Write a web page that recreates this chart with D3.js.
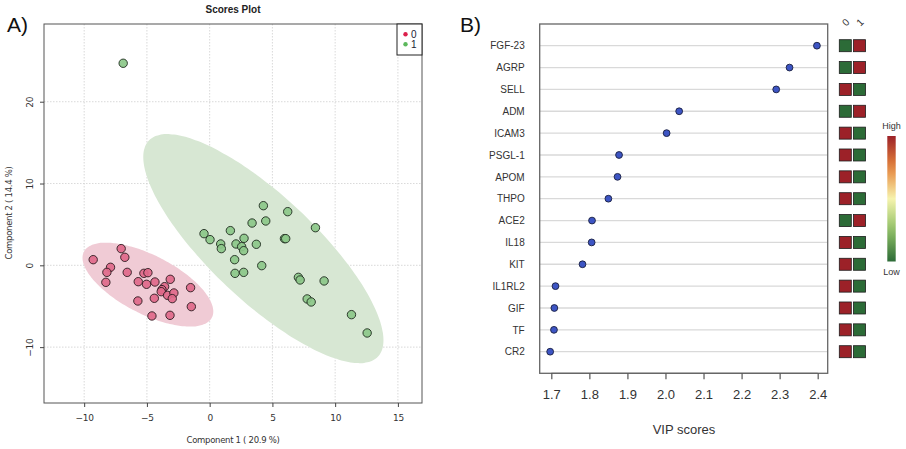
<!DOCTYPE html>
<html><head><meta charset="utf-8">
<script src="https://cdn.jsdelivr.net/npm/d3@7"></script>
<style>body{margin:0;background:#fff}svg{display:block;font-family:"Liberation Sans",Arial,sans-serif}</style>
</head><body><svg id="c" width="906" height="449"></svg>
<script>
// ---------- Panel A data ----------
const groups = ["0", "1"];
const group0X = [-9.28,-7.05,-6.76,-7.90,-8.19,-8.27,-6.57,-5.24,-4.92,-5.69,-5.03,-4.36,-3.14,-3.59,-3.80,-3.86,-3.35,-2.85,-2.98,-1.52,-5.72,-4.41,-1.46,-4.60,-3.16];
const group0Y = [0.69,2.04,0.98,-0.24,-0.86,-2.08,-0.86,-0.98,-0.90,-2.00,-2.32,-2.04,-1.71,-2.61,-2.97,-3.22,-3.67,-3.38,-4.07,-2.73,-4.36,-4.03,-5.05,-6.19,-6.11];
const group1X = [-6.89,4.28,6.22,4.47,3.38,8.43,1.65,-0.45,0.03,2.74,5.96,6.06,0.88,2.10,3.72,2.55,0.93,2.71,1.99,4.15,2.02,2.71,7.07,7.21,9.12,7.77,8.09,11.30,12.55];
const group1Y = [24.7,7.29,6.56,5.42,5.17,4.60,4.24,3.87,3.14,3.30,3.26,3.26,2.61,2.61,2.57,2.28,2.04,1.79,0.69,-0.04,-0.98,-0.86,-1.47,-1.79,-1.91,-4.11,-4.48,-6.03,-8.27];
// confidence ellipses: center x, center y, sd-x, sd-y, correlation
const ellipse0 = [-4.92, -2.36, 5.21, 5.13, -0.64];
const ellipse1 = [4.28, 2.04, 9.57, 14.0, -0.80];
const xTicksA = [-10, -5, 0, 5, 10, 15];
const yTicksA = [-10, 0, 10, 20];

// ---------- Panel B data ----------
const features = ["FGF-23","AGRP","SELL","ADM","ICAM3","PSGL-1","APOM","THPO","ACE2","IL18","KIT","IL1RL2","GIF","TF","CR2"];
const vipScores = [2.398,2.326,2.291,2.036,2.003,1.878,1.874,1.850,1.807,1.806,1.782,1.711,1.708,1.707,1.697];
// relative level per class (1 = high, 0 = low)
const level0 = [0,0,1,0,1,1,1,1,0,1,1,1,1,1,1];
const level1 = [1,1,0,1,0,0,0,0,1,0,0,0,0,0,0];
const xTicksB = [1.7,1.8,1.9,2.0,2.1,2.2,2.3,2.4];

const svg = d3.select("#c");
const txt = "#333";

// ================= Panel A =================
const A = {l:44, r:422, t:24, b:403};
const xA = d3.scaleLinear().domain([-13.2, 16.92]).range([A.l, A.r]);
const yA = d3.scaleLinear().domain([-16.83, 29.5]).range([A.b, A.t]);
const gA = svg.append("g");

// grid
gA.selectAll(".vg").data(xTicksA).join("line")
  .attr("x1", d=>xA(d)).attr("x2", d=>xA(d)).attr("y1", A.t).attr("y2", A.b)
  .attr("stroke", "#cfcfcf").attr("stroke-dasharray", "1.5,1.5").attr("stroke-width", 0.8);
gA.selectAll(".hg").data(yTicksA).join("line")
  .attr("y1", d=>yA(d)).attr("y2", d=>yA(d)).attr("x1", A.l).attr("x2", A.r)
  .attr("stroke", "#cfcfcf").attr("stroke-dasharray", "1.5,1.5").attr("stroke-width", 0.8);

function ellipsePts(e){
  const [cx, cy, sx, sy, r] = e; const q = Math.sqrt(1 - r*r);
  return d3.range(0, 361, 3).map(a => { const t = a*Math.PI/180;
    return [xA(cx + sx*Math.cos(t)), yA(cy + sy*(r*Math.cos(t) + q*Math.sin(t)))]; });
}
const line = d3.line().curve(d3.curveCardinalClosed);
gA.append("path").attr("d", line(ellipsePts(ellipse1).slice(0,-1))).attr("fill", "#d7e7d3").attr("stroke", "none");
gA.append("path").attr("d", line(ellipsePts(ellipse0).slice(0,-1))).attr("fill", "#f0cbd5").attr("stroke", "none");

const pts0 = group0X.map((x,i)=>({x, y:group0Y[i]}));
const pts1 = group1X.map((x,i)=>({x, y:group1Y[i]}));
gA.selectAll(".p0").data(pts0).join("circle")
  .attr("cx", d=>xA(d.x)).attr("cy", d=>yA(d.y)).attr("r", 4.2)
  .attr("fill", "#e0698a").attr("fill-opacity", 0.92).attr("stroke", "#2a1a1e").attr("stroke-width", 0.9);
gA.selectAll(".p1").data(pts1).join("circle")
  .attr("cx", d=>xA(d.x)).attr("cy", d=>yA(d.y)).attr("r", 4.2)
  .attr("fill", "#8cc889").attr("fill-opacity", 0.92).attr("stroke", "#1e2a1e").attr("stroke-width", 0.9);

// box
gA.append("rect").attr("x", A.l).attr("y", A.t).attr("width", A.r-A.l).attr("height", A.b-A.t)
  .attr("fill", "none").attr("stroke", "#555").attr("stroke-width", 1);
// axes
const axXA = gA.append("g").attr("transform", `translate(0,${A.b})`)
  .call(d3.axisBottom(xA).tickValues(xTicksA).tickSize(4).tickPadding(8).tickSizeOuter(0));
axXA.select(".domain").remove();
axXA.selectAll("line").attr("stroke", "#444");
axXA.selectAll("text").attr("font-size", 9).attr("fill", txt).attr("font-family", "DejaVu Sans").style("letter-spacing","-0.3px");
const axYA = gA.append("g").attr("transform", `translate(${A.l},0)`)
  .call(d3.axisLeft(yA).tickValues(yTicksA).tickSize(4).tickSizeOuter(0));
axYA.select(".domain").remove();
axYA.selectAll("line").attr("stroke", "#444");
axYA.selectAll("text").attr("font-size", 9).attr("fill", txt).attr("font-family", "DejaVu Sans")
  .attr("text-anchor", "middle").attr("dy", 0).attr("x", 0)
  .attr("transform", d=>`translate(-14,${0}) rotate(-90)`).style("letter-spacing","-0.3px");
axYA.selectAll(".tick text").attr("dominant-baseline","middle");

gA.append("text").attr("x", 233).attr("y", 13).attr("text-anchor", "middle")
  .attr("font-size", 10).attr("font-weight", "bold").attr("fill", "#222").text("Scores Plot");
gA.append("text").attr("x", 233).attr("y", 443).attr("text-anchor", "middle")
  .attr("font-size", 8.5).attr("fill", txt).attr("font-family","DejaVu Sans").style("letter-spacing","-0.3px").text("Component 1 ( 20.9 %)");
gA.append("text").attr("transform", "translate(12,213) rotate(-90)").attr("text-anchor", "middle")
  .attr("font-size", 8.5).attr("fill", txt).attr("font-family","DejaVu Sans").style("letter-spacing","-0.3px").text("Component 2 ( 14.4 %)");
gA.append("text").attr("x", 7).attr("y", 32).attr("font-size", 21).attr("fill", "#111").text("A)");

// legend
const lg = gA.append("g");
lg.append("rect").attr("x", 397).attr("y", 24).attr("width", 25).attr("height", 31)
  .attr("fill", "#fff").attr("stroke", "#222").attr("stroke-width", 1);
const legCol = ["#dc1f4b", "#5cb85c"];
groups.forEach((g,i)=>{
  lg.append("circle").attr("cx", 405.5).attr("cy", 34.3 + i*10).attr("r", 2.2).attr("fill", legCol[i]);
  lg.append("text").attr("x", 411).attr("y", 37.6 + i*10).attr("font-size", 10).attr("fill", "#223").text(g);
});

// ================= Panel B =================
const B = {l:539.7, r:827.7, t:24, b:373.3};
const xB = d3.scaleLinear().domain([1.6695, 2.4263]).range([B.l, B.r]);
const yB = d3.scalePoint().domain(features).range([45.7, 351.7]);
const gB = svg.append("g");

gB.selectAll(".rl").data(features).join("line")
  .attr("x1", B.l).attr("x2", B.r).attr("y1", d=>yB(d)).attr("y2", d=>yB(d))
  .attr("stroke", "#d9d9d9").attr("stroke-width", 1.3);
gB.append("rect").attr("x", B.l).attr("y", B.t).attr("width", B.r-B.l).attr("height", B.b-B.t)
  .attr("fill", "none").attr("stroke", "#666").attr("stroke-width", 1.3);
gB.selectAll(".vd").data(features).join("circle")
  .attr("cx", (d,i)=>xB(vipScores[i])).attr("cy", d=>yB(d)).attr("r", 3.4)
  .attr("fill", "#3d55c4").attr("stroke", "#1a1f40").attr("stroke-width", 0.9);

const axYB = gB.append("g").attr("transform", `translate(${B.l},0)`)
  .call(d3.axisLeft(yB).tickSize(0).tickPadding(15));
axYB.select(".domain").remove();
axYB.selectAll("text").attr("font-size", 10).attr("fill", txt);

const axXB = gB.append("g").attr("transform", `translate(0,${B.b})`)
  .call(d3.axisBottom(xB).tickValues(xTicksB).tickFormat(d3.format(".1f")).tickSize(6).tickPadding(10).tickSizeOuter(0));
axXB.select(".domain").attr("d", `M${xB(1.7)},0H${xB(2.4)}`).attr("stroke", "#666").attr("stroke-width", 1.3);
axXB.selectAll("line").attr("stroke", "#555").attr("stroke-width", 1.2);
axXB.selectAll("text").attr("font-size", 13).attr("fill", txt);
gB.append("text").attr("x", 684).attr("y", 434).attr("text-anchor", "middle")
  .attr("font-size", 13).attr("fill", txt).text("VIP scores");
gB.append("text").attr("x", 460).attr("y", 32).attr("font-size", 21).attr("fill", "#111").text("B)");

// heat map
const heat = d3.scaleLinear().domain([0, 0.25, 0.5, 0.75, 1])
  .range(["#2c6b37", "#8fc066", "#f6f3ae", "#e6853c", "#9c2128"]);
const cellCols = [level0, level1];
const colX = [845.3, 859.5];
groups.forEach((g, j)=>{
  gB.selectAll(".hc"+j).data(features).join("rect")
    .attr("x", colX[j]-6).attr("y", d=>yB(d)-6).attr("width", 12).attr("height", 12)
    .attr("fill", (d,i)=>heat(cellCols[j][i])).attr("stroke", "#1d1d1d").attr("stroke-width", 0.8);
  gB.append("text").attr("transform", `translate(${colX[j]+1},${23}) rotate(-45)`)
    .attr("text-anchor", "middle").attr("dominant-baseline","middle").attr("font-size", 10).attr("fill", txt).text(g);
});

// color legend
const defs = svg.append("defs");
const grad = defs.append("linearGradient").attr("id", "hg").attr("x1", 0).attr("x2", 0).attr("y1", 1).attr("y2", 0);
d3.range(0, 1.0001, 0.1).forEach(t=>grad.append("stop").attr("offset", t).attr("stop-color", heat(t)));
gB.append("rect").attr("x", 887.3).attr("y", 136).attr("width", 8.4).attr("height", 125.5).attr("fill", "url(#hg)");
gB.append("text").attr("x", 891.5).attr("y", 129).attr("text-anchor", "middle").attr("font-size", 9).attr("fill", txt).text("High");
gB.append("text").attr("x", 891.5).attr("y", 275).attr("text-anchor", "middle").attr("font-size", 9).attr("fill", txt).text("Low");
</script></body></html>
